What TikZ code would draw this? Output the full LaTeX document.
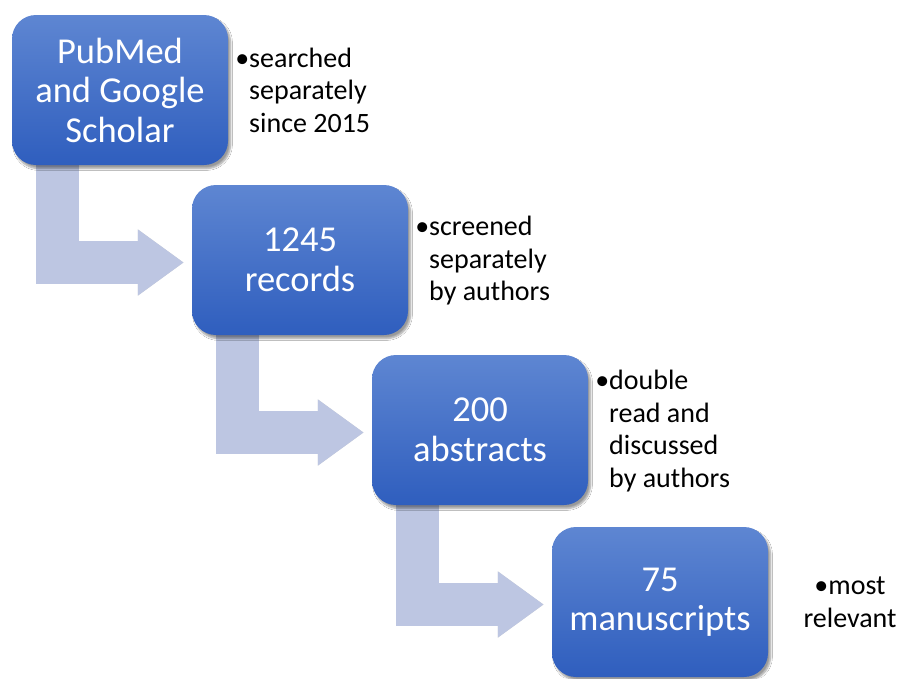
\documentclass[tikz,border=0pt]{standalone}
\usepackage{fontspec}
\setmainfont{Carlito}
\usetikzlibrary{arrows.meta,calc,shadows.blur}
\definecolor{boxtop}{RGB}{94,134,210}
\definecolor{boxbot}{RGB}{47,94,190}
\definecolor{arrowc}{RGB}{189,198,226}
\tikzset{
  stepbox/.style={rounded corners=24pt, minimum width=216pt, minimum height=150pt, inner sep=0pt,
    top color=boxtop, bottom color=boxbot, draw=none, text=white, align=center,
    font=\fontsize{36.5}{39.5}\selectfont,
    blur shadow={shadow xshift=2.5pt, shadow yshift=-3.5pt, shadow blur steps=6, shadow opacity=40}},
  boxslot/.style={minimum width=216pt, minimum height=150pt, inner sep=0pt},
  note/.style={anchor=west, align=left, text=black, inner sep=0pt, font=\fontsize{28}{32.5}\selectfont},
  flowarrow/.style={draw=arrowc, line width=43pt, line join=miter, line cap=butt,
    -{Triangle[length=46pt,width=63pt]}},
  flowshadow/.style={draw=black, draw opacity=0.18, line width=43pt, line join=miter, line cap=butt,
    -{Triangle[length=46pt,width=63pt]}}
}
\begin{document}
\begin{tikzpicture}[x=1pt,y=-1pt]
\useasboundingbox[fill=white] (0,0) rectangle (904,678);
% box slots
\node[boxslot] (g1) at (120,90) {};
\node[boxslot] (g2) at (300,260) {};
\node[boxslot] (g3) at (480,430) {};
\node[boxslot] (g4) at (660,602) {};
% arrows
\foreach \a/\b in {g1/g2, g2/g3, g3/g4}{
  \draw[flowshadow, shift={(2.5pt,-3pt)}] ($(\a.south west)+(46,-20)$) |- ($(\b.west)+(-8,2.5)$);
  \draw[flowarrow] ($(\a.south west)+(46,-20)$) |- ($(\b.west)+(-8,2.5)$);
}
% boxes
\node[stepbox] (b1) at (g1) {PubMed\\and Google\\Scholar};
\node[stepbox] (b2) at (g2) {1245\\records};
\node[stepbox] (b3) at (g3) {200\\abstracts};
\node[stepbox] (b4) at (g4) {75\\manuscripts};
% notes
\node[note] (n1) at (249,90) {\llap{\textbullet}searched\\separately\\since 2015};
\node[note] (n2) at (429,261) {\llap{\textbullet}screened\\separately\\by authors};
\node[note] (n3) at (609,431) {\llap{\textbullet}double\\read and\\discussed\\by authors};
\node[note, anchor=center, align=center] (n4) at (850,602) {\textbullet most\\relevant};
\end{tikzpicture}
\end{document}
